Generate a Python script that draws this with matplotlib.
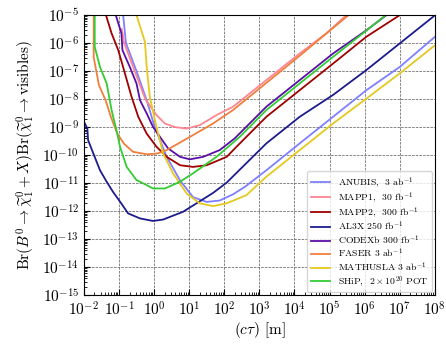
import numpy as np
import matplotlib
matplotlib.use("Agg")
import matplotlib.pyplot as plt

plt.rcParams.update({
    "font.family": "serif",
    "font.serif": ["cmr10", "DejaVu Serif"],
    "mathtext.fontset": "cm",
    "axes.unicode_minus": False,
    "axes.formatter.use_mathtext": True,
})

# log10 values: (log10 ctau, log10 Br)
anubis_x = [-0.88, -0.8, -0.5, -0.21, 0.02, 0.36, 0.74, 1.11, 1.5, 1.87, 2.25, 2.6, 3.2, 4.15, 5.1, 6.05, 7.0, 7.95, 8.0]
anubis_y = [-5.0, -6.0, -7.0, -8.04, -9.0, -10.06, -10.9, -11.5, -11.67, -11.62, -11.4, -11.12, -10.54, -9.58, -8.63, -7.68, -6.85, -5.83, -5.78]

mapp1_x = [-0.92, -0.85, -0.55, -0.25, 0.07, 0.31, 0.6, 0.93, 1.3, 1.78, 2.25, 3.2, 4.15, 4.91, 5.48]
mapp1_y = [-5.5, -6.0, -7.0, -8.0, -8.57, -8.87, -9.0, -9.05, -8.93, -8.57, -8.27, -7.32, -6.37, -5.65, -5.0]

mapp2_x = [-1.37, -1.21, -1.02, -0.83, -0.64, -0.45, -0.21, 0.07, 0.36, 0.74, 1.11, 1.5, 2.07, 2.35, 3.2, 4.15, 5.1, 6.05, 7.0]
mapp2_y = [-5.0, -5.65, -6.25, -7.08, -7.92, -8.63, -9.23, -9.7, -10.06, -10.36, -10.42, -10.36, -10.06, -9.7, -8.63, -7.68, -6.73, -5.77, -5.0]

al3x_x = [-1.97, -1.9, -1.88, -1.73, -1.54, -1.35, -1.17, -0.93, -0.74, -0.4, -0.03, 0.26, 0.83, 1.3, 1.68, 2.07, 3.2, 4.15, 5.1, 6.05, 7.0, 7.95, 8.0]
al3x_y = [-8.87, -9.05, -9.46, -9.94, -10.54, -10.95, -11.31, -11.73, -12.08, -12.26, -12.35, -12.3, -12.02, -11.65, -11.35, -10.98, -9.58, -8.63, -7.85, -6.96, -6.01, -5.06, -5.0]

codexb_x = [-1.09, -0.93, -0.9, -0.69, -0.5, -0.4, -0.21, -0.03, 0.17, 0.4, 0.74, 1.02, 1.4, 1.87, 2.3, 3.2, 4.15, 5.1, 6.05, 6.62]
codexb_y = [-5.0, -5.65, -6.25, -6.85, -7.44, -8.04, -8.51, -8.99, -9.35, -9.76, -10.06, -10.15, -10.06, -9.82, -9.4, -8.27, -7.32, -6.37, -5.54, -5.0]

faser_x = [-1.72, -1.72, -1.57, -1.38, -1.23, -1.05, -0.85, -0.6, -0.2, 0.1, 0.36, 1.02, 1.68, 2.25, 3.2, 4.15, 5.48, 5.55]
faser_y = [-5.0, -6.5, -7.5, -8.04, -8.63, -9.23, -9.6, -9.88, -9.97, -9.94, -9.82, -9.35, -8.87, -8.39, -7.42, -6.45, -5.06, -5.0]

mathusla_x = [-0.5, -0.26, -0.21, -0.12, 0.07, 0.26, 0.54, 0.93, 1.3, 1.68, 2.07, 2.63, 3.2, 4.15, 5.1, 6.05, 7.0, 7.95, 8.0]
mathusla_y = [-5.0, -5.95, -6.85, -7.92, -9.0, -9.94, -10.65, -11.37, -11.72, -11.82, -11.72, -11.43, -10.77, -9.82, -8.87, -7.98, -7.08, -6.13, -6.08]

ship_x = [-1.69, -1.69, -1.54, -1.35, -1.21, -1.07, -0.97, -0.78, -0.5, -0.21, -0.03, 0.31, 0.74, 1.11, 1.78, 2.44, 3.2, 4.15, 5.1, 6.0, 6.6]
ship_y = [-5.0, -6.13, -6.85, -7.44, -8.39, -9.11, -9.7, -10.42, -10.89, -11.07, -11.19, -11.19, -10.95, -10.65, -10.06, -9.35, -8.39, -7.44, -6.49, -5.6, -5.0]

labels = [
    r"ANUBIS,  3 ab$^{-1}$",
    r"MAPP1,  30 fb$^{-1}$",
    r"MAPP2,  300 fb$^{-1}$",
    r"AL3X 250 fb$^{-1}$",
    r"CODEXb 300 fb$^{-1}$",
    r"FASER 3 ab$^{-1}$",
    r"MATHUSLA 3 ab$^{-1}$",
    r"SHiP,  $2\times10^{20}$ POT",
]
series = [(anubis_x, anubis_y), (mapp1_x, mapp1_y), (mapp2_x, mapp2_y), (al3x_x, al3x_y),
          (codexb_x, codexb_y), (faser_x, faser_y), (mathusla_x, mathusla_y), (ship_x, ship_y)]
colors = ["#7f7fff", "#ff8591", "#a00000", "#1c1c8c", "#5a0fa5", "#f07f3c", "#e6c81e", "#33cc33"]

fig = plt.figure(figsize=(4.46, 3.44), dpi=100)
ax = fig.add_axes([0.188, 0.142, 0.787, 0.814])

for (lx, ly), c, lab in zip(series, colors, labels):
    ax.plot(10 ** np.array(lx), 10 ** np.array(ly), color=c, lw=1.3, label=lab)

ax.set_xscale("log")
ax.set_yscale("log")
ax.set_xlim(1e-2, 1e8)
ax.set_ylim(1e-15, 1e-5)
ax.set_xticks([10.0 ** k for k in range(-2, 9)])
ax.set_yticks([10.0 ** k for k in range(-15, -4)])
ax.xaxis.set_minor_locator(matplotlib.ticker.LogLocator(base=10, subs=np.arange(2, 10), numticks=50))
ax.yaxis.set_minor_locator(matplotlib.ticker.LogLocator(base=10, subs=np.arange(2, 10), numticks=50))
ax.xaxis.set_minor_formatter(matplotlib.ticker.NullFormatter())
ax.yaxis.set_minor_formatter(matplotlib.ticker.NullFormatter())
ax.tick_params(which="both", direction="in", labelsize=11)
ax.tick_params(axis="x", which="major", pad=4)
ax.tick_params(which="major", length=4)
ax.tick_params(which="minor", length=2)
ax.grid(True, which="major", linestyle="--", color="#555555", lw=0.5)

ax.set_xlabel(r"$(c\tau)$ [m]", fontsize=11, labelpad=1)
ax.set_ylabel(r"$\mathrm{Br}(B^0\to\widetilde{\chi}^0_1+X)\mathrm{Br}(\widetilde{\chi}^0_1\to$visibles$)$", fontsize=11)

ax.legend(loc="lower right", fontsize=7, framealpha=0.8, borderaxespad=0.3,
          handlelength=2.0, handletextpad=0.8, labelspacing=0.0, borderpad=0.35)

fig.savefig("out.png", dpi=100)
